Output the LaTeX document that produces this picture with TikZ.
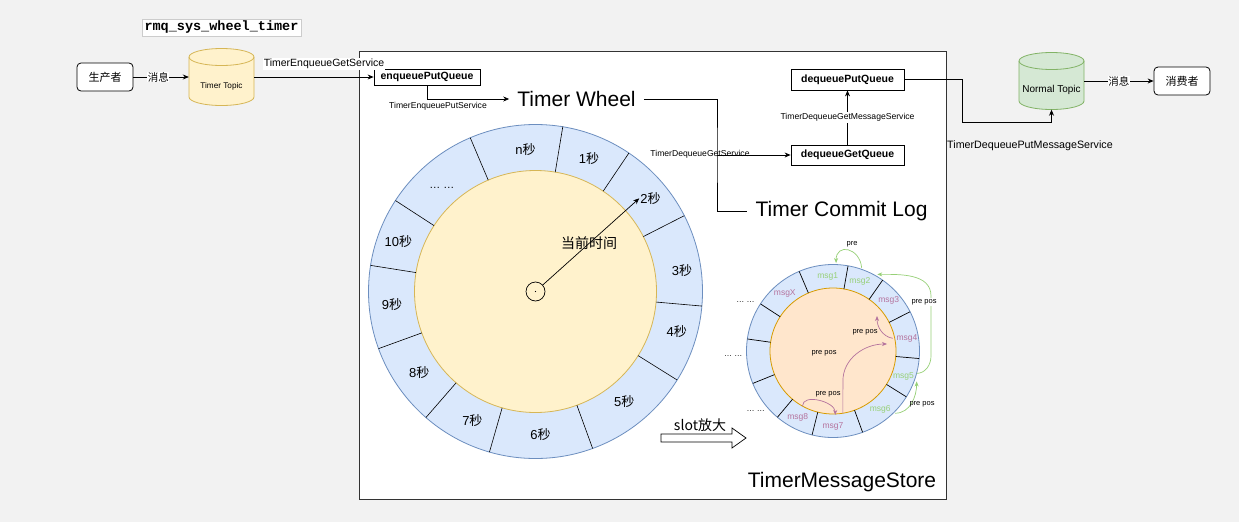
\documentclass[tikz,border=0pt]{standalone}
\usepackage{fontspec}
\setmainfont{Liberation Sans}
\setmonofont{Liberation Mono}
\newfontfamily\cjk{Noto Sans CJK SC}
\usetikzlibrary{positioning,arrows.meta}

\definecolor{bggray}{HTML}{F2F2F2}
\definecolor{ringblue}{HTML}{DAE8FC}
\definecolor{ringedge}{HTML}{6C8EBF}
\definecolor{hubyellow}{HTML}{FFF2CC}
\definecolor{hubedge}{HTML}{D6B656}
\definecolor{slotorange}{HTML}{FFE6CC}
\definecolor{slotedge}{HTML}{D79B00}
\definecolor{topicgreen}{HTML}{D5E8D4}
\definecolor{topicedge}{HTML}{82B366}
\definecolor{msgpink}{HTML}{B5739D}
\definecolor{msggreen}{HTML}{97D077}
\definecolor{framegray}{HTML}{333333}

\def\miao{{\cjk 秒}}
% cylinder outline: centre, fill, stroke
\def\topicshape#1#2#3{%
  \begin{scope}[shift={(#1)}]
    \filldraw[fill=#2, draw=#3, line width=0.8pt] (-32.5,-20) -- (-32.5,20)
      arc[start angle=180, end angle=360, x radius=32.5pt, y radius=8.5pt] -- (32.5,-20)
      arc[start angle=0, end angle=180, x radius=32.5pt, y radius=8.5pt] -- cycle;
    \draw[draw=#3, line width=0.8pt] (-32.5,-20)
      arc[start angle=180, end angle=360, x radius=32.5pt, y radius=8.5pt];
  \end{scope}}

\tikzset{
  title/.style={draw=gray!40, fill=white, font=\ttfamily\bfseries\fontsize{13.5}{15}\selectfont, inner sep=2.5pt},
  actor/.style={draw, fill=white, rounded corners=4pt, line width=0.8pt, minimum width=56, minimum height=28, font=\cjk\fontsize{11}{13}\selectfont},
  topic/.style={minimum width=65, minimum height=57, inner sep=0pt},
  queue/.style={draw, fill=white, line width=0.8pt, font=\bfseries\fontsize{10.5}{12}\selectfont},
  heading/.style={font=\fontsize{21}{24}\selectfont, inner xsep=8pt},
  service/.style={font=\fontsize{8.6}{10}\selectfont},
  msgtag/.style={font=\cjk\fontsize{10.5}{12}\selectfont, fill=white, inner sep=0.5pt},
  link/.style={line width=0.8pt, -{Stealth[length=6pt, width=5pt]}},
  wire/.style={line width=0.8pt},
  slotlabel/.style={font=\fontsize{13}{15}\selectfont},
  msg/.style={font=\fontsize{8.5}{10}\selectfont},
  prepos/.style={font=\fontsize{7.5}{9}\selectfont},
  greenlink/.style={draw=msggreen, line width=0.7pt, -{Stealth[length=5pt, width=4pt]}},
  pinklink/.style={draw=msgpink, line width=0.7pt, -{Stealth[length=5pt, width=4pt]}},
}

\begin{document}
\begin{tikzpicture}[x=1pt, y=-1pt, every node/.style={inner sep=1pt}]
\useasboundingbox (0,0) rectangle (1239,522);
\fill[bggray] (0,0) rectangle (1239,522);

% store frame
\draw[framegray, fill=white, line width=0.9pt] (359,51) rectangle (946,499);

\node[title] (title) at (221.5,27.5) {rmq\_sys\_wheel\_timer};

\topicshape{221.5,77}{hubyellow}{hubedge}
\topicshape{1051.5,81}{topicgreen}{topicedge}

\node[actor] (producer) at (105,77) {生产者};
\node[topic, label={[font=\fontsize{8.2}{10}\selectfont, yshift=-9pt]center:Timer Topic}] (timertopic) at (221.5,77) {};
\node[queue, minimum width=106, minimum height=16] (enqput) at (427,77) {enqueuePutQueue};
\node[heading] (wheeltitle) at (576.5,99) {Timer Wheel};
\node[heading] (commitlog) at (841.5,211) {Timer Commit Log};
\node[queue, minimum width=113, minimum height=21] (deqput) at (847.5,79.5) {dequeuePutQueue};
\node[queue, minimum width=113, minimum height=20] (deqget) at (847.5,155) {dequeueGetQueue};
\node[topic, label={[font=\fontsize{10}{12}\selectfont, yshift=-9pt]center:Normal Topic}] (normaltopic) at (1051.5,81) {};
\node[actor] (consumer) at (1182,81) {消费者};
\node[heading] (store) at (842,482) {TimerMessageStore};

% connectors
\draw[link] (producer) -- node[msgtag, pos=0.45] {消息} (timertopic);
\draw[link] (timertopic) -- (enqput);
\node[font=\fontsize{10.5}{12}\selectfont, fill=white] at (324,64) {TimerEnqueueGetService};
\draw[link] (enqput.south) |- (wheeltitle.west);
\node[service] at (438,106) {TimerEnqueuePutService};
\coordinate (bend) at (717,155);
\draw[wire] (wheeltitle.east) -| (bend) |- (commitlog.west);
\draw[link] (bend) -- (deqget.west);
\node[service] at (700,154) {TimerDequeueGetService};
\draw[link] (deqget) -- node[service, fill=white] {TimerDequeueGetMessageService} (deqput);
\coordinate (drop) at (962,122);
\draw[link] (deqput.east) -| (drop) -| (normaltopic.south);
\node[font=\fontsize{10.7}{12}\selectfont] at (1030,146) {TimerDequeuePutMessageService};
\draw[link] (normaltopic) -- node[msgtag, pos=0.5] {消息} (consumer);

% timer wheel
\begin{scope}[shift={(535.5,291.5)}, yscale=-1]
  \def\rout{167}
  \def\rin{121}
  \filldraw[fill=ringblue, draw=ringedge, line width=0.8pt] (0,0) circle (\rout);
  \filldraw[fill=hubyellow, draw=hubedge, line width=0.8pt] (0,0) circle (\rin);
  \foreach \a in {113,80.6,56,27,-5,-32,-70,-106,-131,-160,171,147}
    \draw[line width=0.6pt] (\a:\rin) -- (\a:\rout);
  \foreach \a/\r/\t in {94/142/n,68/143/1,39/148/2,8/148/3,-16/147/4,-51/141/5,-88/143/6,-116/144/7,-145/142/8,-175/144/9,160/146/10}
    \node[slotlabel] (sec\t) at (\a:\r) {\t\miao};
  \node[slotlabel, font=\fontsize{11}{13}\selectfont] (secdots) at (132:140) {… …};
  \node[circle, draw, line width=0.7pt, minimum size=19, inner sep=0pt] (hub) at (0,0) {};
  \fill (hub.center) circle (0.6);
\end{scope}
\draw[line width=0.7pt, -{Stealth[length=6pt, width=5pt]}] (hub) -- (sec2.west);
\node[font=\cjk\fontsize{14}{16}\selectfont] (now) at (589,243) {当前时间};

% slot zoom arrow
\draw[line width=0.7pt, fill=white] (661,434) -- (732,434) -- (732,428) -- (746,438) -- (732,448) -- (732,442) -- (661,442) -- cycle;
\node[font=\cjk\fontsize{14}{16}\selectfont] (zoomtag) at (700,425) {slot放大};

% one slot
\begin{scope}[shift={(833,351)}, yscale=-1]
  \def\rout{86.5}
  \def\rin{63}
  \filldraw[fill=ringblue, draw=ringedge, line width=0.8pt] (0,0) circle (\rout);
  \filldraw[fill=slotorange, draw=slotedge, line width=0.8pt] (0,0) circle (\rin);
  \foreach \a in {113,80,55,27,-5,-32,-70,-104,-130,-158,172,147}
    \draw[line width=0.7pt] (\a:\rin) -- (\a:\rout);
  \foreach \a/\t/\c in {94/1/msggreen,69/2/msggreen,42/3/msgpink,9.5/4/msgpink,-20/5/msggreen,-51/6/msggreen,-90/7/msgpink,-118/8/msgpink,130/X/msgpink}
    \node[msg, text=\c] (msg\t) at (\a:75) {msg\t};
  \foreach \a/\r in {151/100,183/100,218/98}
    \node[font=\fontsize{8}{10}\selectfont] at (\a:\r) {… …};
  % chains (to-angles are taken on the page, y down)
  \draw[greenlink] (71:88) to[out=-95, in=-90, looseness=2] (88:88);
  \node[prepos] at (19,107) {pre};
  \draw[greenlink] (-15:86.5) to[out=0, in=90] (98,-5) -- (98,55) to[out=-90, in=0] (60:88.5);
  \node[prepos, fill=white] at (91,49) {pre pos};
  \draw[greenlink] (-45:88) to[out=0, in=90] (-20:89);
  \node[prepos] at (89,-53) {pre pos};
  \draw[pinklink] (12:61) to[out=-170, in=90] (44,35);
  \node[prepos] at (32,19) {pre pos};
  \draw[pinklink] (-81:63) -- (9.9,-30) to[out=-90, in=180] (54,7);
  \node[prepos] at (-9,-2) {pre pos};
  \draw[pinklink] (-119:63) to[out=-90, in=-90] (-88:64);
  \node[prepos] at (-5,-43) {pre pos};
\end{scope}
\end{tikzpicture}
\end{document}
